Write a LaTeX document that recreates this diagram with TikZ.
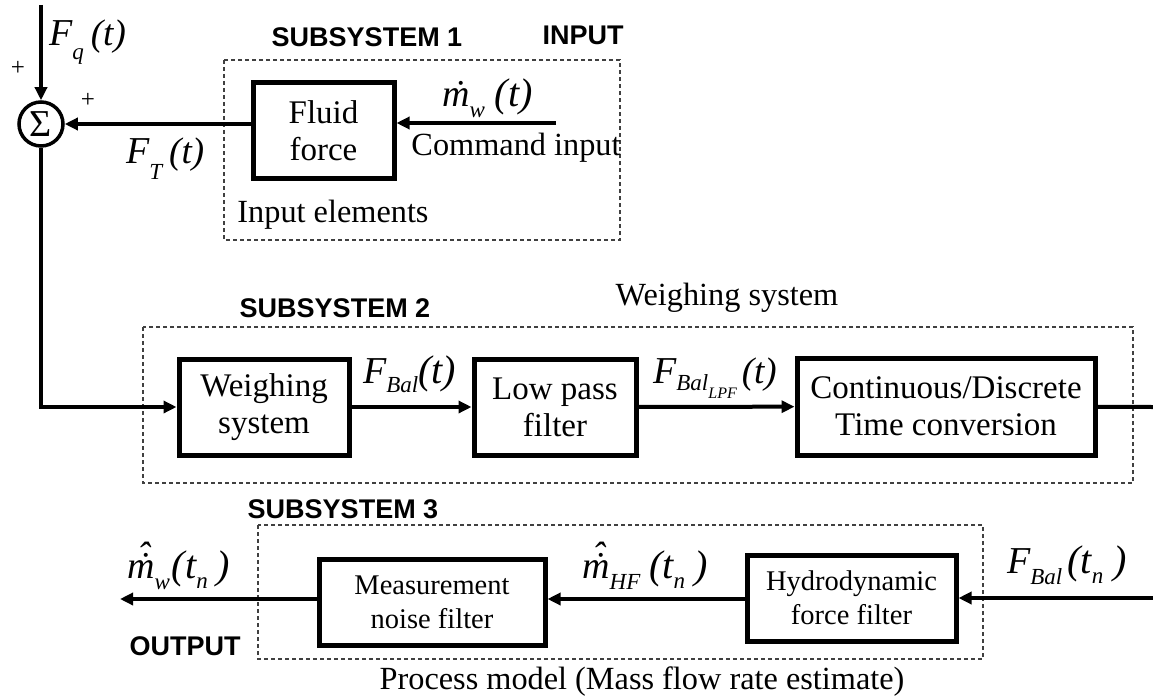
\documentclass[tikz,border=0pt]{standalone}
\usepackage{fontspec}
\setmainfont{Liberation Serif}
\setsansfont{Liberation Sans}
\usetikzlibrary{arrows.meta}

% symbol pieces of the signal labels
\newcommand\symF[1]{{\fontsize{38}{38}\selectfont\itshape #1}}
\newcommand\symP[1]{{\fontsize{37}{37}\selectfont\itshape #1}}
\newcommand\symPL[1]{{\fontsize{40}{40}\selectfont\itshape #1}}
\newcommand\symS[1]{{\fontsize{23}{23}\selectfont\itshape #1}}
\newcommand\symSS[1]{{\fontsize{16}{16}\selectfont\itshape #1}}
% m with a dot, and m with a dot and a hat
\newcommand\mdt{\ooalign{m\cr\hidewidth\kern0.14em\char"02D9\hidewidth\cr}}
\newcommand\mhatdt{\ooalign{m\cr\hidewidth\kern0.14em\char"02D9\hidewidth\cr
  \hidewidth\kern0.16em\raisebox{0.26em}{\char"02C6}\hidewidth\cr}}

\begin{document}
\begin{tikzpicture}[x=1pt,y=-1pt,
  blk/.style={draw, line width=5pt, inner sep=0pt, align=center,
    font=\fontsize{33}{37}\selectfont},
  blksmall/.style={blk, font=\fontsize{28.5}{34}\selectfont},
  sig/.style={line width=4pt, -{Triangle[length=13pt,width=12pt]}},
  sigline/.style={line width=4pt},
  grp/.style={draw=black!75, line width=1.2pt, dash pattern=on 4pt off 3pt},
  head/.style={font=\sffamily\bfseries\fontsize{27}{30}\selectfont, inner sep=0pt},
  captext/.style={font=\fontsize{32.3}{36}\selectfont, inner sep=0pt},
  lbl/.style={inner sep=0pt, anchor=base west},
  pm/.style={font=\fontsize{25}{25}\selectfont, inner sep=0pt}
]
\useasboundingbox (0,0) rectangle (1153,698);

% grouping frames
\draw[grp] (224,60) rectangle (620,240);
\draw[grp] (143,327) rectangle (1133,483);
\draw[grp] (258,525) rectangle (983,659);

% headings and captions
\node[head] (h1) at (367,37) {SUBSYSTEM 1};
\node[head] (hin) at (583,35) {INPUT};
\node[head] (h2) at (335,308) {SUBSYSTEM 2};
\node[head] (h3) at (343,509) {SUBSYSTEM 3};
\node[head] (hout) at (185,646) {OUTPUT};
\node[captext] (c1) at (333,215) {Input elements};
\node[captext] (c2) at (727,298) {Weighing system};
\node[captext] (c3) at (642,682) {Process model (Mass flow rate estimate)};
\node[captext] (c4) at (516,148) {Command input};

% summing junction
\node[draw, circle, line width=3.5pt, minimum size=44pt, inner sep=0pt,
  font=\fontsize{38}{38}\selectfont] (sum) at (41,124) {\char"03A3};
\node[pm] (p1) at (18,68) {+};
\node[pm] (p2) at (88,100) {+};

% blocks
\node[blk, minimum width=141pt, minimum height=95pt] (fluid) at (323.5,130.5) {Fluid\\force};
\node[blk, minimum width=170pt, minimum height=96pt] (wsys) at (264,407) {Weighing\\system};
\node[blk, minimum width=162pt, minimum height=96pt] (lpf) at (555,407) {Low pass\\filter};
\node[blk, minimum width=298pt, minimum height=97pt] (cdt) at (946,406.5) {Continuous/Discrete\\Time conversion};
\node[blksmall, minimum width=226pt, minimum height=86pt] (mnf) at (432,602) {Measurement\\noise filter};
\node[blksmall, minimum width=209pt, minimum height=86pt] (hff) at (851.5,598) {Hydrodynamic\\force filter};

% free ends of the signal lines
\coordinate (fqtop) at (41,5);
\coordinate (cmdin) at (556,123);
\coordinate (cdtout) at (1153,407);
\coordinate (balin) at (1153,598);
\coordinate (outtip) at (120,599);

% signal lines
\draw[sig] (fqtop) -- (sum);
\draw[sig] (fluid.west |- sum) -- (sum);
\draw[sig] (cmdin) -- (cmdin -| fluid.east);
\draw[sig] (sum) |- (wsys.west);
\draw[sig] (wsys) -- (lpf);
\draw[sig] (lpf) -- (cdt);
\draw[sigline] (cdt) -- (cdtout);
\draw[sig] (balin) -- (balin -| hff.east);
\draw[sig] (hff.west |- outtip) -- (outtip -| mnf.east);
\draw[sig] (mnf.west |- outtip) -- (outtip);

% signal labels
\node[lbl] (lfq) at (49,46) {\symF{F}\raisebox{-14pt}{\symS{q}}\hspace{7pt}\symP{(t)}};
\node[lbl] (lft) at (126,163) {\symF{F}\raisebox{-17pt}{\symS{T}}\hspace{7pt}\symP{(t)}};
\node[lbl] (lmw) at (442,107) {\symF{\mdt}\raisebox{-10pt}{\symS{w}}\hspace{10pt}\symPL{(t)}};
\node[lbl] (lfb) at (363,383) {\symF{F}\raisebox{-9pt}{\symS{Bal}}\symPL{(t)}};
\node[lbl] (lfl) at (653,383) {\symF{F}\raisebox{-7pt}{\symS{Bal}}\raisebox{-15pt}{\symSS{LPF}}\hspace{5pt}\symP{(t)}};
\node[lbl] (lmh) at (582,578) {\symF{\mhatdt}\raisebox{-11pt}{\symS{HF}}\hspace{9pt}\symPL{(t}\raisebox{-10pt}{\symS{n}}\hspace{9pt}\symPL{)}};
\node[lbl] (lmo) at (127,578) {\symF{\mhatdt}\raisebox{-11pt}{\symS{w}}\hspace{2pt}\symPL{(t}\raisebox{-10pt}{\symS{n}}\hspace{9pt}\symPL{)}};
\node[lbl] (lfn) at (1007,573) {\symF{F}\raisebox{-11pt}{\symS{Bal}}\hspace{5pt}\symPL{(t}\raisebox{-10pt}{\symS{n}}\hspace{10pt}\symPL{)}};
\end{tikzpicture}
\end{document}
